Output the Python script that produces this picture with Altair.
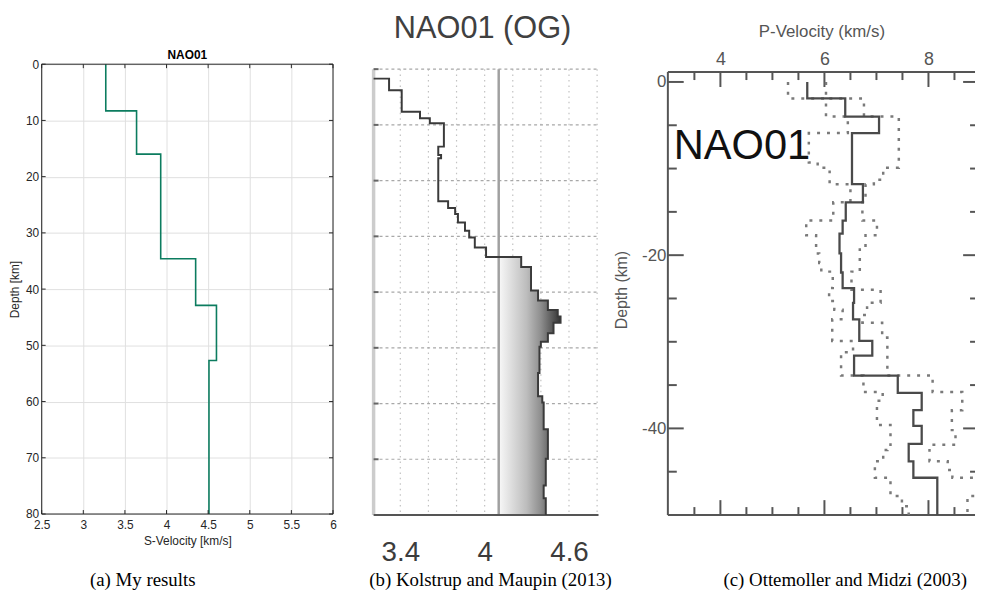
import altair as alt
import pandas as pd

# ---------------- panel (a): my results ----------------
A_TITLE = "NAO01"
A_CAPTION = "(a) My results"
A_X_TITLE = "S-Velocity [km/s]"
A_Y_TITLE = "Depth [km]"
A_LAYER_TOPS = [0, 8.3, 16.0, 34.6, 42.9, 52.7]
A_LAYER_VS = [3.27, 3.64, 3.93, 4.35, 4.60, 4.51]
A_BOTTOM = 80
A_XTICKS = [2.5, 3, 3.5, 4, 4.5, 5, 5.5, 6]
A_YTICKS = [0, 10, 20, 30, 40, 50, 60, 70, 80]
A_XDOMAIN = [2.5, 6]
A_YDOMAIN = [0, 80]

# ---------------- panel (b): Kolstrup and Maupin ----------------
B_TITLE = "NAO01 (OG)"
B_CAPTION = "(b) Kolstrup and Maupin (2013)"
B_LAYER_TOPS = [0, 1.7, 3.8, 7.65, 8.8, 9.7, 13.9, 15.4, 16.0, 23.7, 24.9, 26.0, 27.5,
                29.0, 30.2, 32.0, 33.7, 35.5, 39.7, 41.5, 43.2, 44.4, 45.5, 47.4, 48.9,
                49.8, 54.5, 58.7, 59.8, 64.6, 69.9, 74.7, 77.0]
B_LAYER_VS = [3.15, 3.32, 3.41, 3.54, 3.61, 3.71, 3.67, 3.69, 3.67, 3.74, 3.79, 3.81, 3.86,
              3.89, 3.93, 4.01, 4.26, 4.33, 4.38, 4.45, 4.52, 4.54, 4.49, 4.45, 4.40,
              4.39, 4.38, 4.41, 4.42, 4.45, 4.435, 4.42, 4.435]
B_BOTTOM = 80
B_REF_V = 4.1
B_XLABELS = [3.4, 4, 4.6]
B_XGRID = [3.4, 3.6, 3.8, 4.0, 4.2, 4.4, 4.6, 4.8]
B_YGRID = [0, 10, 20, 30, 40, 50, 60, 70]
B_XDOMAIN = [3.21, 4.81]
B_YDOMAIN = [-0.89, 80]

# ---------------- panel (c): Ottemoller and Midzi ----------------
C_LABEL = "NAO01"
C_CAPTION = "(c) Ottemoller and Midzi (2003)"
C_X_TITLE = "P-Velocity (km/s)"
C_Y_TITLE = "Depth (km)"
C_SOLID_TOPS = [0, -1.9, -4.0, -5.9, -11.8, -13.9, -16.0, -17.5, -19.8, -22.0, -23.8,
                -25.5, -27.4, -29.9, -31.6, -33.9, -35.9, -37.9, -39.7, -41.8, -43.8, -45.7]
C_SOLID_VS = [5.67, 6.40, 7.05, 6.53, 6.74, 6.41, 6.35, 6.29, 6.32, 6.35, 6.57,
              6.55, 6.67, 6.92, 6.57, 7.41, 7.87, 7.71, 7.87, 7.62, 7.71, 8.17]
C_LOW_TOPS = [0, -1.9, -4.0, -5.9, -9.3, -9.9, -11.8, -13.9, -16.0, -17.7, -19.8, -20.9,
              -21.9, -23.8, -25.3, -26.3, -27.4, -29.9, -31.2, -33.9, -35.8, -36.8, -39.6,
              -41.9, -42.5, -43.8, -45.7, -47.8, -49.0]
C_LOW_VS = [5.30, 6.03, 6.45, 5.70, 5.87, 6.10, 6.50, 6.17, 5.65, 5.84, 5.90, 5.94,
            6.16, 6.09, 6.19, 6.35, 6.15, 6.55, 6.32, 6.75, 7.12, 7.01, 7.27,
            7.21, 7.13, 6.97, 7.27, 7.49, 7.62]
C_HIGH_TOPS = [0, -1.9, -4.0, -9.9, -11.3, -11.8, -13.9, -16.0, -17.7, -18.9, -21.9, -24.0,
               -25.5, -26.9, -27.8, -29.5, -33.9, -35.8, -37.9, -40.2, -41.9, -43.8, -44.8,
               -45.7, -47.8]
C_HIGH_VS = [6.03, 6.76, 7.43, 7.13, 6.95, 6.79, 6.73, 7.01, 6.79, 6.68, 6.52, 7.08,
             6.82, 6.73, 7.11, 7.21, 8.08, 8.65, 8.45, 8.52, 8.02, 8.37, 8.46,
             8.95, 8.75]
C_BOTTOM = -50
C_TOP = 1.15
C_XMAJOR = [4, 6, 8]
C_XMINOR = [3.5, 4.5, 5, 5.5, 6.5, 7, 7.5, 8.5]
C_YMAJOR = [0, -20, -40]
C_YMINOR = [-5, -10, -15, -25, -30, -35, -45]
C_XDOMAIN = [2.99, 8.895]
C_YDOMAIN = [-50, 2.05]

# ---------------- sizes ----------------
A_W, A_H = 294, 454
B_W, B_H = 227, 455
C_W, C_H = 310, 455
GAP_AB, GAP_BC = 41, 70
ORIGIN_X, ORIGIN_Y = 40, 62   # page position of panel (a) plot area
SANS = "Liberation Sans"
SERIF = "Liberation Serif"
NO_FRAME = alt.ViewBackground(stroke="transparent", strokeWidth=0, fill="transparent")


def step_frame(tops, vs, bottom):
    depth = list(tops) + [bottom]
    vel = list(vs) + [vs[-1]]
    return pd.DataFrame({"depth": depth, "v": vel, "i": list(range(len(depth)))})


def caption_layer(text, cx, cy):
    return alt.Chart(pd.DataFrame({"caption": [text]})).mark_text(
        font=SERIF, fontSize=19, color="#000000", align="center", baseline="middle"
    ).encode(text="caption:N", x=alt.value(cx), y=alt.value(cy))


def title_layer(text, cx, cy, size, weight, color):
    return alt.Chart(pd.DataFrame({"title": [text]})).mark_text(
        font=SANS, fontSize=size, fontWeight=weight, color=color, align="center",
        baseline="alphabetic"
    ).encode(text="title:N", x=alt.value(cx), y=alt.value(cy))


LBL = "'' + datum.value"

# ================= panel (a) =================
ax = alt.X("v:Q", scale=alt.Scale(domain=A_XDOMAIN, nice=False, zero=False),
           axis=alt.Axis(values=A_XTICKS, labelExpr=LBL, labelFlush=False, grid=True,
                         gridColor="#e0e0e0", ticks=False, tickSize=0, domain=False,
                         labelFont=SANS, labelFontSize=12, labelColor="#262626", labelPadding=6,
                         title=A_X_TITLE, titleFont=SANS, titleFontSize=12,
                         titleFontWeight="normal", titleColor="#262626", titlePadding=5))
ay = alt.Y("depth:Q", scale=alt.Scale(domain=A_YDOMAIN, reverse=True, nice=False, zero=False),
           axis=alt.Axis(values=A_YTICKS, labelExpr=LBL, grid=True, gridColor="#e0e0e0",
                         ticks=False, tickSize=0, domain=False, labelFont=SANS, labelFontSize=12,
                         labelColor="#262626", labelPadding=3, title=A_Y_TITLE, titleFont=SANS,
                         titleFontSize=12, titleFontWeight="normal", titleColor="#262626",
                         titlePadding=4))

a_df = step_frame(A_LAYER_TOPS, A_LAYER_VS, A_BOTTOM)
a_line = alt.Chart(a_df).mark_line(interpolate="step-before", color="#0c7c5f",
                                   strokeWidth=1.6).encode(x=ax, y=ay, order="i:Q")
a_xt = pd.DataFrame({"v": A_XTICKS})
a_yt = pd.DataFrame({"depth": A_YTICKS})
tick_col = "#262626"
a_t1 = alt.Chart(a_xt).mark_rule(color=tick_col).encode(x=ax, y=alt.value(0), y2=alt.value(4))
a_t2 = alt.Chart(a_xt).mark_rule(color=tick_col).encode(x=ax, y=alt.value(A_H), y2=alt.value(A_H - 4))
a_t3 = alt.Chart(a_yt).mark_rule(color=tick_col).encode(y=ay, x=alt.value(0), x2=alt.value(4))
a_t4 = alt.Chart(a_yt).mark_rule(color=tick_col).encode(y=ay, x=alt.value(A_W), x2=alt.value(A_W - 4))
a_fh = pd.DataFrame({"depth": A_YDOMAIN, "v": A_XDOMAIN[0], "v2": A_XDOMAIN[1]})
a_fv = pd.DataFrame({"v": A_XDOMAIN, "depth": A_YDOMAIN[0], "depth2": A_YDOMAIN[1]})
a_frame_h = alt.Chart(a_fh).mark_rule(color=tick_col, strokeWidth=1).encode(x=ax, x2="v2:Q", y=ay)
a_frame_v = alt.Chart(a_fv).mark_rule(color=tick_col, strokeWidth=1).encode(x=ax, y=ay, y2="depth2:Q")
# invisible mark at the page's top-left content corner (fixes the chart origin)
anchor = alt.Chart(pd.DataFrame({"k": [0]})).mark_rule(opacity=0).encode(
    x=alt.value(-ORIGIN_X + 8), x2=alt.value(-ORIGIN_X + 9),
    y=alt.value(-ORIGIN_Y + 8), y2=alt.value(-ORIGIN_Y + 9))

panel_a = alt.layer(
    a_line, a_t1, a_t2, a_t3, a_t4, a_frame_h, a_frame_v,
    title_layer(A_TITLE, A_W / 2, -5, 12, "bold", "#000000"),
    caption_layer(A_CAPTION, 102, 521), anchor,
).properties(width=A_W, height=A_H, view=NO_FRAME)

# ================= panel (b) =================
bx = alt.X("v:Q", scale=alt.Scale(domain=B_XDOMAIN, nice=False, zero=False),
           axis=alt.Axis(values=B_XLABELS, labelExpr=LBL, labelFlush=False, grid=False,
                         ticks=False, tickSize=0, domain=False, labelFont=SANS,
                         labelFontSize=28, labelColor="#3c3c3c", labelPadding=24, title=""))
by = alt.Y("depth:Q", scale=alt.Scale(domain=B_YDOMAIN, reverse=True, nice=False, zero=False),
           axis=None)

b_gv = pd.DataFrame({"v": B_XGRID, "depth": 0, "depth2": B_BOTTOM})
b_gh = pd.DataFrame({"depth": B_YGRID, "v": B_XDOMAIN[0], "v2": B_XDOMAIN[1]})
b_grid_v = alt.Chart(b_gv).mark_rule(color="#c2c2c2", strokeDash=[1.5, 4], strokeWidth=1.2).encode(
    x=bx, y=by, y2="depth2:Q")
b_grid_h = alt.Chart(b_gh).mark_rule(color="#a8a8a8", strokeDash=[3, 3], strokeWidth=1.2).encode(
    x=bx, x2="v2:Q", y=by)
b_left = alt.Chart(pd.DataFrame({"v": [B_XDOMAIN[0]], "depth": [0], "depth2": [B_BOTTOM]})).mark_rule(
    color="#cccccc", strokeWidth=3.5).encode(x=bx, y=by, y2="depth2:Q")
b_lticks = alt.Chart(pd.DataFrame({"depth": B_YGRID})).mark_rule(
    color="#666666", strokeWidth=2).encode(y=by, x=alt.value(0), x2=alt.value(5))
b_bottom = alt.Chart(pd.DataFrame({"depth": [B_BOTTOM], "v": [B_XDOMAIN[0]], "v2": [B_XDOMAIN[1]]})).mark_rule(
    color="#555555", strokeWidth=2).encode(x=bx, x2="v2:Q", y=by)

start = next(i for i, v in enumerate(B_LAYER_VS) if v > B_REF_V)
b_area_df = step_frame(B_LAYER_TOPS[start:], B_LAYER_VS[start:], B_BOTTOM)
b_area_df["ref"] = B_REF_V
B_FILL = alt.Gradient(gradient="linear",
                      stops=[alt.GradientStop(color="#f8f8f8", offset=0),
                             alt.GradientStop(color="#bdbdbd", offset=0.45),
                             alt.GradientStop(color="#8e8e8e", offset=0.68),
                             alt.GradientStop(color="#333333", offset=1)],
                      x1=0, x2=1, y1=0, y2=0)
b_area = alt.Chart(b_area_df).mark_area(interpolate="step-before", orient="horizontal",
                                        color=B_FILL).encode(x=bx, x2="ref:Q", y=by)
b_ref = alt.Chart(pd.DataFrame({"v": [B_REF_V], "depth": [0], "depth2": [B_BOTTOM]})).mark_rule(
    color="#a0a0a0", strokeWidth=2.5).encode(x=bx, y=by, y2="depth2:Q")
b_df = step_frame(B_LAYER_TOPS, B_LAYER_VS, B_BOTTOM)
b_line = alt.Chart(b_df).mark_line(interpolate="step-before", color="#3a3a3a", strokeWidth=2,
                                   clip=True).encode(x=bx, y=by, order="i:Q")

panel_b = alt.layer(
    b_grid_v, b_grid_h, b_area, b_ref, b_left, b_lticks, b_bottom, b_line,
    title_layer(B_TITLE, 110, -26, 31, "normal", "#404040"),
    caption_layer(B_CAPTION, 118, 521),
).properties(width=B_W, height=B_H, view=NO_FRAME)

# ================= panel (c) =================
cx = alt.X("v:Q", scale=alt.Scale(domain=C_XDOMAIN, nice=False, zero=False),
           axis=alt.Axis(orient="top", values=C_XMAJOR, labelExpr=LBL, labelFlush=False,
                         offset=-8, grid=False, ticks=False, tickSize=0, domain=False,
                         labelFont=SANS, labelFontSize=18, labelColor="#555555", labelPadding=4,
                         title=C_X_TITLE, titleFont=SANS, titleFontSize=17,
                         titleFontWeight="normal", titleColor="#555555", titlePadding=10))
cy = alt.Y("depth:Q", scale=alt.Scale(domain=C_YDOMAIN, nice=False, zero=False),
           axis=alt.Axis(values=C_YMAJOR, labelExpr=LBL, grid=False, ticks=False, tickSize=0,
                         domain=False, labelFont=SANS, labelFontSize=17, labelColor="#555555",
                         labelPadding=2, title=C_Y_TITLE, titleFont=SANS, titleFontSize=16,
                         titleFontWeight="normal", titleColor="#555555", titlePadding=12))

fc = "#555555"
c_top = alt.Chart(pd.DataFrame({"depth": [C_TOP], "v": [C_XDOMAIN[0]], "v2": [C_XDOMAIN[1]]})).mark_rule(
    color=fc, strokeWidth=2).encode(x=cx, x2="v2:Q", y=cy)
c_bot = alt.Chart(pd.DataFrame({"depth": [C_BOTTOM], "v": [C_XDOMAIN[0]], "v2": [C_XDOMAIN[1]]})).mark_rule(
    color=fc, strokeWidth=2).encode(x=cx, x2="v2:Q", y=cy)
c_left = alt.Chart(pd.DataFrame({"v": [C_XDOMAIN[0]], "depth": [C_BOTTOM], "depth2": [C_TOP]})).mark_rule(
    color=fc, strokeWidth=2).encode(x=cx, y=cy, y2="depth2:Q")

c_xmaj = pd.DataFrame({"v": C_XMAJOR})
c_xmin = pd.DataFrame({"v": C_XMINOR})
c_ymaj = pd.DataFrame({"depth": C_YMAJOR})
c_ymin = pd.DataFrame({"depth": C_YMINOR})
top_px = 8
ticks_c = [
    alt.Chart(c_xmaj).mark_rule(color=fc, strokeWidth=2).encode(x=cx, y=alt.value(top_px), y2=alt.value(top_px + 15)),
    alt.Chart(c_xmin).mark_rule(color=fc, strokeWidth=2).encode(x=cx, y=alt.value(top_px), y2=alt.value(top_px + 8)),
    alt.Chart(c_xmaj).mark_rule(color=fc, strokeWidth=2).encode(x=cx, y=alt.value(C_H), y2=alt.value(C_H - 15)),
    alt.Chart(c_xmin).mark_rule(color=fc, strokeWidth=2).encode(x=cx, y=alt.value(C_H), y2=alt.value(C_H - 8)),
    alt.Chart(c_ymaj).mark_rule(color=fc, strokeWidth=2).encode(y=cy, x=alt.value(0), x2=alt.value(16)),
    alt.Chart(c_ymin).mark_rule(color=fc, strokeWidth=2).encode(y=cy, x=alt.value(0), x2=alt.value(9)),
    alt.Chart(c_ymaj).mark_rule(color=fc, strokeWidth=2).encode(y=cy, x=alt.value(C_W), x2=alt.value(C_W - 12)),
    alt.Chart(c_ymin).mark_rule(color=fc, strokeWidth=2).encode(y=cy, x=alt.value(C_W), x2=alt.value(C_W - 5)),
]

c_low = alt.Chart(step_frame(C_LOW_TOPS, C_LOW_VS, C_BOTTOM)).mark_line(
    interpolate="step-before", color="#7a7a7a", strokeWidth=2.5, strokeDash=[3, 7], clip=True
).encode(x=cx, y=cy, order="i:Q")
c_high = alt.Chart(step_frame(C_HIGH_TOPS, C_HIGH_VS, C_BOTTOM)).mark_line(
    interpolate="step-before", color="#7a7a7a", strokeWidth=2.5, strokeDash=[3, 7], clip=True
).encode(x=cx, y=cy, order="i:Q")
c_solid = alt.Chart(step_frame(C_SOLID_TOPS, C_SOLID_VS, C_BOTTOM)).mark_line(
    interpolate="step-before", color="#4a4a4a", strokeWidth=2.3, clip=True
).encode(x=cx, y=cy, order="i:Q")
c_label = alt.Chart(pd.DataFrame({"label": [C_LABEL]})).mark_text(
    font=SANS, fontSize=42, color="#111111", align="left", baseline="alphabetic"
).encode(text="label:N", x=alt.value(6), y=alt.value(96))

panel_c = alt.layer(
    c_top, c_bot, c_left, *ticks_c, c_low, c_high, c_solid, c_label,
    caption_layer(C_CAPTION, 179, 521)
).properties(width=C_W, height=C_H, view=NO_FRAME)


def spacer(w):
    return alt.Chart(pd.DataFrame({"k": [""]})).mark_text(opacity=0).encode(
        text="k:N", x=alt.value(0), y=alt.value(0)
    ).properties(width=w, height=C_H, view=NO_FRAME)


chart = alt.hconcat(
    panel_a, spacer(GAP_AB), panel_b, spacer(GAP_BC), panel_c,
    spacing=0, bounds="flush"
).properties(padding=0).configure_view(strokeWidth=0, stroke="transparent").configure(font=SANS)

chart.save("out.html", embed_options={"renderer": "svg", "actions": False})
